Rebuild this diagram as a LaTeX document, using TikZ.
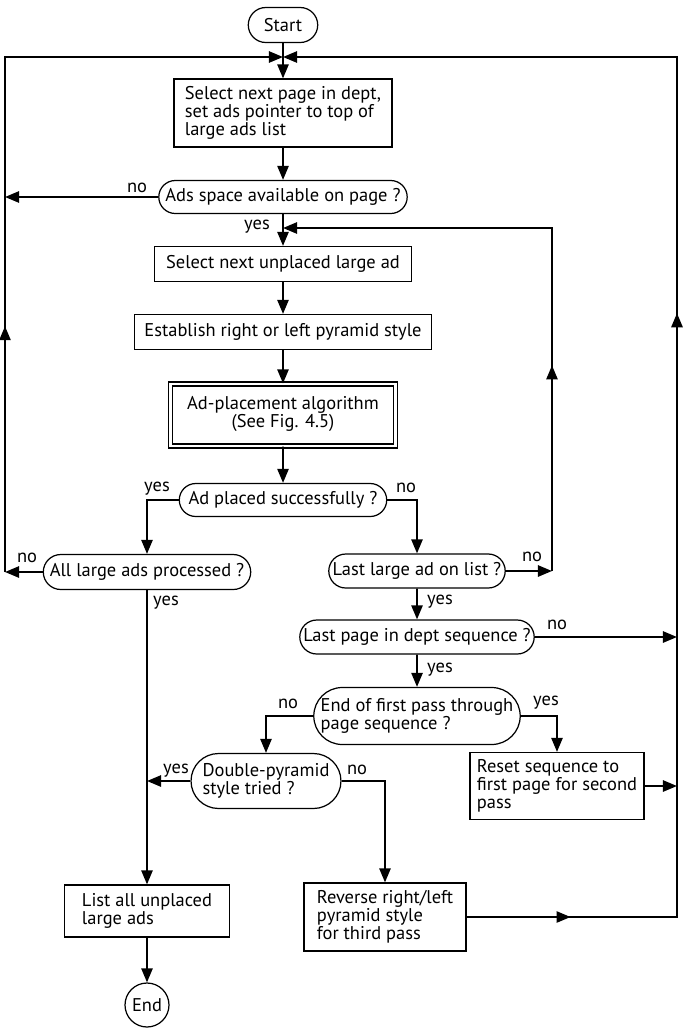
\documentclass[tikz,border=0pt]{standalone}
\usepackage{fontspec}
\setmainfont{PT Sans}
\usepackage{tikz}
\usetikzlibrary{arrows.meta, shapes.misc, decorations.markings}
\tikzset{conn/.style={line width=1.1pt},
  flow/.style={conn, -{Triangle[length=8pt, width=6.4pt]}},
  midtip/.style={postaction={decorate, decoration={markings,
    mark=at position #1 with {\arrow{Triangle[length=8pt, width=6.4pt]}}}}},
  procbox/.style={draw, line width=0.7pt, inner sep=3pt},
  testbox/.style={draw, rounded rectangle, line width=0.7pt, inner sep=3pt},
  lbl/.style={inner sep=0pt}}

\begin{document}
\begin{tikzpicture}[x=0.02cm, y=-0.02cm, font=\fontsize{10.5}{10.3}\selectfont]
\useasboundingbox (0,0) rectangle (683,1029);
% main column
\node[testbox, minimum width=1.6cm, minimum height=0.7cm] (start) at (283,25) {Start};
\node[procbox, align=left, minimum width=4.36cm, minimum height=1.36cm] (box1) at (283,113)
  {Select next page in dept,\\set ads pointer to top of\\large ads list};
\node[testbox, minimum width=5.18cm, minimum height=0.66cm] (dec1) at (283,197) {Ads space available on page ?};
\node[procbox, minimum width=5.14cm, minimum height=0.7cm] (box2) at (283,264) {Select next unplaced large ad};
\node[procbox, minimum width=5.94cm, minimum height=0.7cm] (box3) at (283,332) {Establish right or left pyramid style};
\node[procbox, double, double distance=1.6pt, align=center, minimum width=4.5cm, minimum height=1.24cm] (box4) at (283,415)
  {Ad-placement algorithm\\(See Fig. 4.5)\\[-7pt]\mbox{}};
\node[testbox, minimum width=4.36cm, minimum height=0.66cm] (dec2) at (283,500) {Ad placed successfully ?};
% left branch
\node[testbox, minimum width=4.36cm, minimum height=0.7cm] (dec3) at (147,572) {All large ads processed ?};
\node[procbox, align=left, minimum width=3.3cm, minimum height=1.04cm] (list) at (147,911)
  {List all unplaced\\large ads};
\node[draw, circle, line width=0.7pt, minimum size=0.88cm, inner sep=0pt] (finish) at (147,1005) {End};
% right branch
\node[testbox, minimum width=3.74cm, minimum height=0.68cm] (dec4) at (417,571) {Last large ad on list ?};
\node[testbox, minimum width=4.9cm, minimum height=0.68cm] (dec5) at (417,637) {Last page in dept sequence ?};
\node[testbox, align=left, minimum width=4.34cm, minimum height=1.14cm] (dec6) at (417,716)
  {End of first pass through\\page sequence ?};
\node[testbox, align=left, minimum width=2.96cm, minimum height=1.1cm] (dec7) at (266,781)
  {Double-pyramid\\style tried ?};
\node[procbox, align=left, minimum width=3.48cm, minimum height=1.34cm] (reset) at (557,786)
  {Reset sequence to\\first page for second\\pass};
\node[procbox, align=left, minimum width=3.24cm, minimum height=1.36cm] (reverse) at (385,917)
  {Reverse right/left\\pyramid style\\for third pass};
% corners of the loops
\coordinate (top) at (283,57);
\coordinate (lp0) at (5,57);
\coordinate (lp1) at (5,197);
\coordinate (lp3) at (5,572);
\coordinate (yesj) at (283,228);
\coordinate (ip0) at (552,228);
\coordinate (ip4) at (552,571);
\coordinate (rp0) at (677,57);
\coordinate (rp5) at (677,637);
\coordinate (rp6) at (677,786);
\coordinate (rp) at (677,917);
\coordinate (yj) at (147,781);
% yes / no labels
\node[lbl] (no1) at (137,188) {no};
\node[lbl] (yes1) at (257,227) {yes};
\node[lbl] (yes2) at (157,489) {yes};
\node[lbl] (no2) at (406,488) {no};
\node[lbl] (no3) at (27,558) {no};
\node[lbl] (yes3) at (166,603) {yes};
\node[lbl] (no4) at (532,557) {no};
\node[lbl] (yes4) at (440,602) {yes};
\node[lbl] (no5) at (557,625) {no};
\node[lbl] (yes5) at (440,670) {yes};
\node[lbl] (no6) at (288,704) {no};
\node[lbl] (yes6) at (546,703) {yes};
\node[lbl] (yes7) at (176,771) {yes};
\node[lbl] (no7) at (357,770) {no};
% connectors
\draw[flow] (start) -- (box1);
\draw[flow] (box1) -- (dec1);
\draw[flow] (dec1) -- (box2);
\draw[flow] (box2) -- (box3);
\draw[flow] (box3) -- (box4);
\draw[flow] (box4) -- (dec2);
\draw[flow] (dec2.west) -| (dec3.north);
\draw[flow] (dec2.east) -| (dec4.north);
\draw[flow] (dec3) -- (list);
\draw[flow] (list) -- (finish);
\draw[flow] (dec4) -- (dec5);
\draw[flow] (dec5) -- (dec6);
\draw[flow] (dec6.west) -| (dec7.north);
\draw[flow] (dec6.east) -| (reset.north);
\draw[flow] (dec7.east) -| (reverse.north);
\draw[flow] (dec7.west) -- (yj);
% back to the top
\draw[flow] (dec1.west) -- (lp1);
\draw[flow] (dec3.west) -- (lp3);
\draw[flow, midtip=0.31] (lp3) -- (lp0) -- (top);
\draw[flow] (dec4.east) -- (ip4);
\draw[flow, midtip=0.336] (ip4) -- (ip0) -- (yesj);
\draw[flow] (dec5.east) -- (rp5);
\draw[flow] (reset.east) -- (rp6);
\draw[flow, midtip=0.071, midtip=0.556] (reverse.east) -- (rp) -- (rp0) -- (top);
\end{tikzpicture}
\end{document}
